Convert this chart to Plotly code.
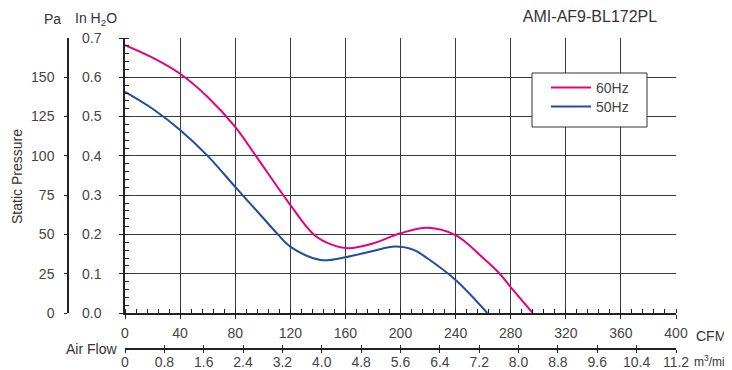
import plotly.graph_objects as go

# ---- data ----
cfm_60 = [0, 20, 40, 60, 80, 95, 120, 137, 150, 162, 180, 200, 220, 240, 260, 272, 280, 296]
p_60 = [0.682, 0.650, 0.609, 0.550, 0.474, 0.400, 0.275, 0.200, 0.174, 0.165, 0.177, 0.203, 0.217, 0.198, 0.140, 0.100, 0.066, 0.0]

cfm_50 = [0, 20, 40, 60, 80, 100, 111, 120, 142, 160, 180, 196, 210, 220, 240, 263]
p_50 = [0.563, 0.520, 0.466, 0.400, 0.321, 0.243, 0.200, 0.169, 0.135, 0.142, 0.158, 0.169, 0.160, 0.138, 0.084, 0.0]

cfm_ticks = [0, 40, 80, 120, 160, 200, 240, 280, 320, 360, 400]
m3_ticks = [0, 0.8, 1.6, 2.4, 3.2, 4.0, 4.8, 5.6, 6.4, 7.2, 8.0, 8.8, 9.6, 10.4, 11.2]
m3_labels = ["0", "0.8", "1.6", "2.4", "3.2", "4.0", "4.8", "5.6", "6.4", "7.2", "8.0", "8.8", "9.6", "10.4", "11.2"]
pa_ticks = [0, 25, 50, 75, 100, 125, 150]
inh2o_ticks = [0.0, 0.1, 0.2, 0.3, 0.4, 0.5, 0.6, 0.7]

# page body has an 8px margin, so the figure is offset by 8px
OFF = 8
W, H = 732 - OFF, 370 - OFF
ML, MT, MB = 0, 38 - OFF, 0
MR = W - (676 - OFF)
PW = W - ML - MR
PH = H - MT - MB


def px(x):
    return (x - OFF - ML) / PW


def py(y):
    return (H - MB - (y - OFF)) / PH


FONT = "Liberation Sans, Arial, sans-serif"
TXT = "#444444"
LAB = "#333333"
GRID = "#3a3a3a"
FS = 14

fig = go.Figure()
fig.add_trace(go.Scatter(x=cfm_60, y=p_60, mode="lines", name="60Hz", legend="legend",
                         line=dict(color="#e6007e", width=2, shape="spline", smoothing=1.0)))
fig.add_trace(go.Scatter(x=cfm_50, y=p_50, mode="lines", name="50Hz", legend="legend2",
                         line=dict(color="#1f4f9c", width=2, shape="spline", smoothing=1.0)))
# invisible helpers so the secondary axes are drawn
for xa, ya in (("x2", "y"), ("x3", "y"), ("x", "y2")):
    fig.add_trace(go.Scatter(x=[0], y=[0], xaxis=xa, yaxis=ya, mode="markers",
                             marker=dict(opacity=0), showlegend=False, hoverinfo="skip"))

leg_common = dict(xanchor="left", yanchor="top", bgcolor="rgba(0,0,0,0)", borderwidth=0,
                  font=dict(size=FS, color=TXT), itemwidth=40)

fig.update_layout(
    width=W, height=H, autosize=False,
    margin=dict(l=ML, r=MR, t=MT, b=MB, pad=0, autoexpand=False),
    paper_bgcolor="white", plot_bgcolor="white",
    font=dict(family=FONT, size=FS, color=TXT),
    title=dict(text="AMI-AF9-BL172PL", x=px(590), xref="paper", xanchor="center",
               y=1 - (16 - OFF) / H, yref="container", yanchor="middle",
               font=dict(size=16, color=LAB)),
    xaxis=dict(
        domain=[px(125), 1], range=[0, 400], tickvals=cfm_ticks, automargin=False,
        showgrid=True, gridcolor=GRID, gridwidth=1, zeroline=False,
        showline=True, linecolor="#222", linewidth=1.5,
        ticks="outside", ticklen=4, tickcolor="#222", ticklabelstandoff=2,
        minor=dict(dtick=8, tick0=0, ticks="inside", ticklen=4, tickcolor="#222", showgrid=False),
        tickfont=dict(size=FS, color=TXT), anchor="y", fixedrange=True,
    ),
    xaxis2=dict(
        overlaying="x", anchor="free", position=py(349), side="bottom", automargin=False,
        range=[0, 11.2], tickvals=m3_ticks, ticktext=m3_labels,
        showgrid=False, zeroline=False, showline=True, linecolor="#222", linewidth=1.5,
        ticks="inside", ticklen=3, tickcolor="#222", ticklabelstandoff=0,
        tickfont=dict(size=FS, color=TXT),
    ),
    xaxis3=dict(
        overlaying="x", anchor="free", position=py(349), side="bottom", automargin=False,
        range=[0, 11.2], tickvals=m3_ticks, showticklabels=False,
        showgrid=False, zeroline=False, showline=False,
        ticks="outside", ticklen=3, tickcolor="#222",
    ),
    yaxis=dict(
        domain=[py(313), 1], range=[0, 0.7], tickvals=inh2o_ticks, tickformat=".1f",
        automargin=False,
        showgrid=True, gridcolor=GRID, gridwidth=1, zeroline=False,
        showline=True, linecolor="#222", linewidth=1.5,
        ticks="outside", ticklen=4, tickcolor="#222", ticklabelstandoff=15,
        minor=dict(dtick=0.02, tick0=0, ticks="inside", ticklen=4, tickcolor="#222", showgrid=False),
        tickfont=dict(size=FS, color=TXT), anchor="x", fixedrange=True,
    ),
    yaxis2=dict(
        overlaying="y", anchor="free", position=px(68), side="left", automargin=False,
        range=[0, 175], tickvals=pa_ticks,
        showgrid=False, zeroline=False, showline=True, linecolor="#222", linewidth=1.5,
        ticks="outside", ticklen=3, tickcolor="#222", ticklabelstandoff=7,
        tickfont=dict(size=FS, color=TXT),
    ),
    legend=dict(x=px(546), y=py(72), **leg_common),
    legend2=dict(x=px(546), y=py(91), **leg_common),
    showlegend=True,
)

# legend frame
fig.add_shape(type="rect", xref="paper", yref="paper",
              x0=px(532), x1=px(647), y0=py(127), y1=py(73),
              fillcolor="white", line=dict(color="#333", width=1), layer="above")

annots = [
    dict(text="Pa", x=px(52), y=py(19), font=dict(size=FS, color=LAB)),
    dict(text="In H<sub>2</sub>O", x=px(96), y=py(19), font=dict(size=FS, color=LAB)),
    dict(text="Static Pressure", x=px(17), y=py(177), textangle=-90, font=dict(size=14, color=LAB)),
    dict(text="CFM", x=px(711), y=py(336), font=dict(size=FS, color=LAB)),
    dict(text="m<sup>3</sup>/min", x=px(692), y=py(361), xanchor="left", font=dict(size=12, color=LAB)),
    dict(text="Air Flow", x=px(119), y=py(349), xanchor="right", font=dict(size=FS, color=LAB)),
]
for a in annots:
    a.setdefault("xanchor", "center")
    fig.add_annotation(xref="paper", yref="paper", showarrow=False, yanchor="middle", **a)

fig.write_html("out.html")
